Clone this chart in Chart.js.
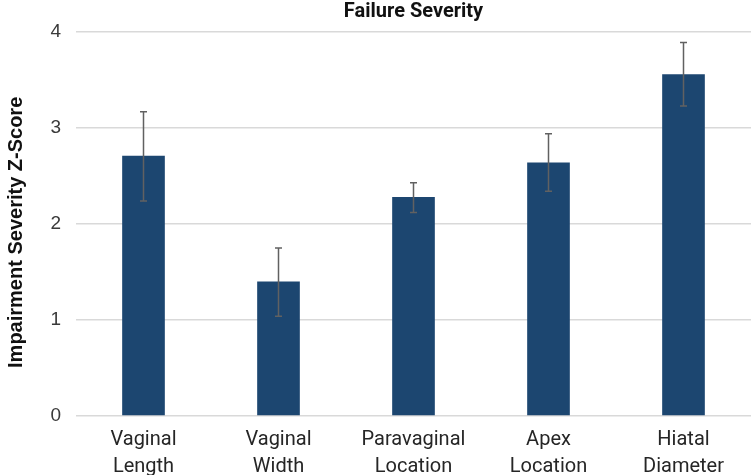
<!DOCTYPE html>
<html>
<head>
<meta charset="utf-8">
<script src="https://cdn.jsdelivr.net/npm/chart.js@4.4.1/dist/chart.umd.min.js"></script>
<style>
  html, body { margin: 0; padding: 0; background: #fff; }
  canvas { display: block; }
</style>
</head>
<body>
<canvas id="myChart" width="751" height="475"></canvas>
<script>
// values
var categories = [
    ['Vaginal', 'Length'],
    ['Vaginal', 'Width'],
    ['Paravaginal', 'Location'],
    ['Apex', 'Location'],
    ['Hiatal', 'Diameter']
];
var means = [2.71, 1.40, 2.28, 2.64, 3.56];
var errLow = [2.24, 1.04, 2.12, 2.34, 3.23];
var errHigh = [3.17, 1.75, 2.43, 2.94, 3.89];
var yTicks = [0, 1, 2, 3, 4];

// draws the error bars through the y scale
var errorBars = {
    id: 'errorBars',
    afterDatasetsDraw: function (chart) {
        var ctx = chart.ctx;
        var meta = chart.getDatasetMeta(0);
        var y = chart.scales.y;
        ctx.save();
        ctx.strokeStyle = '#616161';
        ctx.lineWidth = 1.5;
        meta.data.forEach(function (bar, i) {
            var x = bar.x;
            var top = y.getPixelForValue(errHigh[i]);
            var bottom = y.getPixelForValue(errLow[i]);
            ctx.beginPath();
            ctx.moveTo(x, top);
            ctx.lineTo(x, bottom);
            ctx.moveTo(x - 3.5, top);
            ctx.lineTo(x + 3.5, top);
            ctx.moveTo(x - 3.5, bottom);
            ctx.lineTo(x + 3.5, bottom);
            ctx.stroke();
        });
        ctx.restore();
    }
};

var ctx = document.getElementById('myChart').getContext('2d');
var myChart = new Chart(ctx, {
    type: 'bar',
    data: {
        labels: categories,
        datasets: [{
            label: 'Failure Severity',
            data: means,
            backgroundColor: '#1c4670',
            borderWidth: 0,
            categoryPercentage: 1,
            barPercentage: 0.316
        }]
    },
    options: {
        responsive: false,
        animation: false,
        devicePixelRatio: 1,
        layout: { padding: 0 },
        plugins: {
            legend: { display: false },
            tooltip: { enabled: false },
            title: {
                display: true,
                text: 'Failure Severity',
                fullSize: false,
                color: '#111',
                font: { family: 'Roboto', size: 20, weight: 'bold', lineHeight: 1.1 },
                padding: { top: 1, bottom: 9 }
            }
        },
        scales: {
            x: {
                grid: { display: false },
                border: { display: false },
                ticks: {
                    color: '#262626',
                    font: { family: 'Roboto', size: 20, lineHeight: 1.35 },
                    padding: 2,
                    maxRotation: 0,
                    autoSkip: false
                },
                afterFit: function (scale) { scale.height = 59; }
            },
            y: {
                min: 0,
                max: 4,
                afterBuildTicks: function (scale) {
                    scale.ticks = yTicks.map(function (v) { return { value: v }; });
                },
                grid: { color: '#d9d9d9', lineWidth: 1.5, drawTicks: false },
                border: { display: false },
                ticks: {
                    color: '#3a3a3a',
                    font: { family: 'Liberation Sans', size: 19 },
                    padding: 15
                },
                title: {
                    display: true,
                    text: 'Impairment Severity Z-Score\u00a0\u00a0\u00a0',
                    color: '#111',
                    font: { family: 'Liberation Sans', size: 20, weight: 'bold', lineHeight: 1.2 },
                    padding: { top: 4, bottom: 0 }
                },
                afterFit: function (scale) { scale.width = 76; }
            }
        }
    },
    plugins: [errorBars]
});
</script>
</body>
</html>
